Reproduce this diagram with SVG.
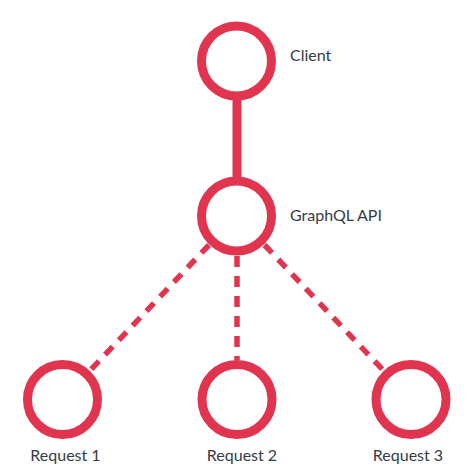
<svg xmlns="http://www.w3.org/2000/svg" width="474" height="474" viewBox="0 0 474 474">
<style>
.node{fill:#fff;stroke:#E1344F;stroke-width:9}
.solid{stroke:#E1344F;stroke-width:9;fill:none}
.dash{stroke:#E1344F;stroke-width:5.5;fill:none;stroke-dasharray:11 9}
.lbl{font-family:"Lato","Open Sans",sans-serif;font-size:16px;fill:#363c47}
</style>
<rect width="474" height="474" fill="#fff"/>
<g id="connectors">
<line class="solid" x1="237" y1="96" x2="237" y2="181"/>
<line class="dash" x1="237" y1="256" x2="237" y2="360"/>
<line class="dash" x1="209" y1="245" x2="90" y2="370.5"/>
<line class="dash" x1="264.5" y1="245" x2="383.5" y2="370.5"/>
</g>
<g id="client">
<circle class="node" cx="236.5" cy="61" r="35"/>
<text class="lbl" x="290" y="61">Client</text>
</g>
<g id="graphql">
<circle class="node" cx="236.5" cy="216" r="35"/>
<text class="lbl" x="290" y="221">GraphQL API</text>
</g>
<g id="request1">
<circle class="node" cx="62.5" cy="399.5" r="35"/>
<text class="lbl" x="65.5" y="461" text-anchor="middle">Request 1</text>
</g>
<g id="request2">
<circle class="node" cx="237" cy="399.5" r="35"/>
<text class="lbl" x="242" y="461" text-anchor="middle">Request 2</text>
</g>
<g id="request3">
<circle class="node" cx="411" cy="399.5" r="35"/>
<text class="lbl" x="408" y="461" text-anchor="middle">Request 3</text>
</g>
</svg>
